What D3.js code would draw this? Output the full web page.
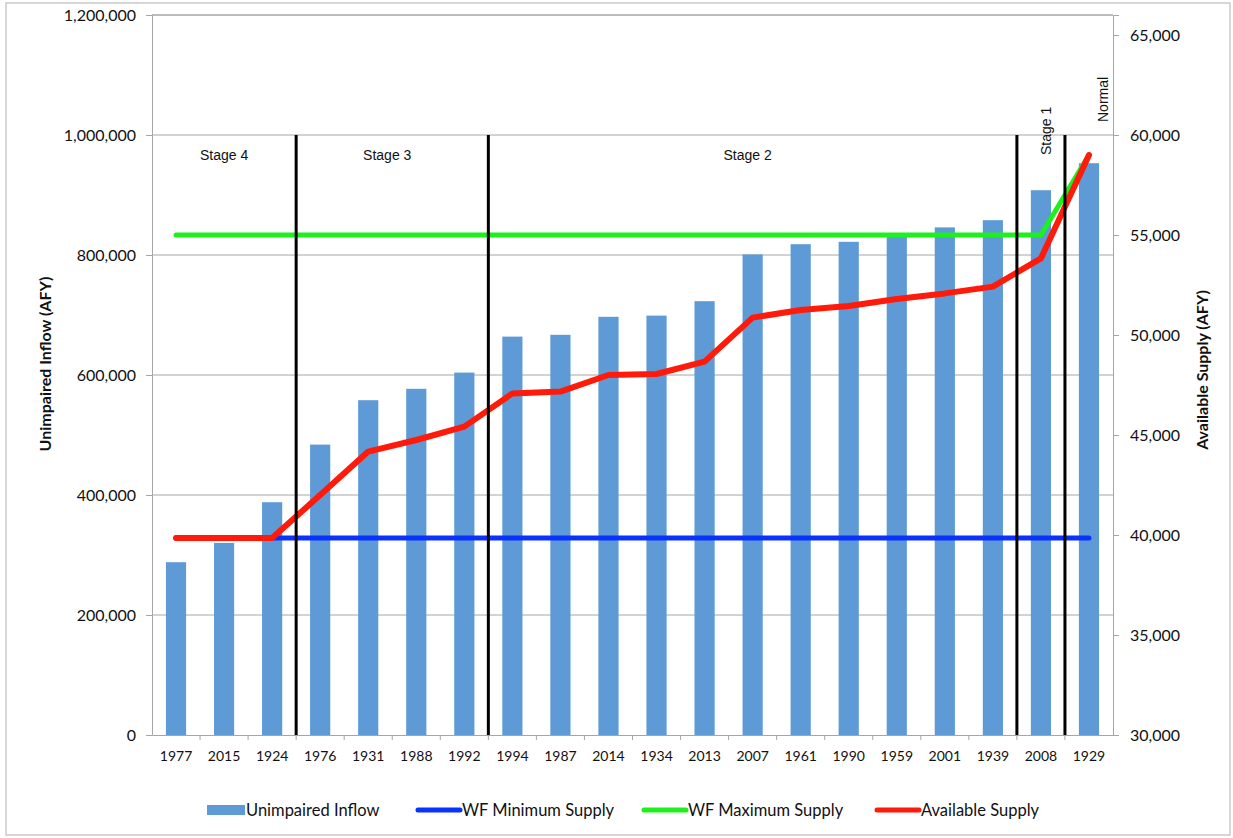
<!DOCTYPE html>
<html>
<head>
<meta charset="utf-8">
<script src="https://cdn.jsdelivr.net/npm/d3@7"></script>
<style>
  html, body { margin: 0; padding: 0; background: #fff; }
  svg { display: block; }
</style>
</head>
<body>
<svg id="chart" width="1233" height="838"></svg>
<script>
// ---------- DATA ----------
const years = ["1977","2015","1924","1976","1931","1988","1992","1994","1987","2014",
               "1934","2013","2007","1961","1990","1959","2001","1939","2008","1929"];
const unimpairedInflow = [288000, 320000, 388000, 484000, 558000, 577000, 604000, 664000, 667000, 697000,
                          699000, 723000, 801000, 818000, 822000, 831000, 846000, 858000, 908000, 953000];
const wfMinimumSupply = [39850, 39850, 39850, 39850, 39850, 39850, 39850, 39850, 39850, 39850,
                         39850, 39850, 39850, 39850, 39850, 39850, 39850, 39850, 39850, 39850];
const wfMaximumSupply = [55000, 55000, 55000, 55000, 55000, 55000, 55000, 55000, 55000, 55000,
                         55000, 55000, 55000, 55000, 55000, 55000, 55000, 55000, 55000, 59000];
const availableSupply = [39850, 39850, 39850, 42000, 44170, 44750, 45420, 47080, 47170, 48000,
                         48050, 48670, 50870, 51250, 51450, 51800, 52080, 52420, 53830, 59000];
const leftTicks = [0, 200000, 400000, 600000, 800000, 1000000, 1200000];
const rightTicks = [30000, 35000, 40000, 45000, 50000, 55000, 60000, 65000];
const stageNames = ["Stage 4", "Stage 3", "Stage 2", "Stage 1", "Normal"];
const stageStarts = ["1977", "1976", "1994", "2008", "1929"];
const stageBoundaries = ["1976", "1994", "2008", "1929"];
const legendLabels = ["Unimpaired Inflow", "WF Minimum Supply", "WF Maximum Supply", "Available Supply"];

// ---------- LAYOUT ----------
const svg = d3.select("#chart");
const L = 152, R = 1113, T = 15, B = 735;
const colBar = "#5e9bd6", colMin = "#0a32ff", colMax = "#1ef01e", colAvail = "#ff1a0a";
const tickFont = "Lato, 'Open Sans', sans-serif";

// outer frame
svg.append("rect").attr("x", 6).attr("y", 3).attr("width", 1224).attr("height", 832)
  .attr("fill", "#fff").attr("stroke", "#c9c9c9").attr("stroke-width", 1.5);

const x = d3.scaleBand().domain(years).range([L, R]).paddingInner(0.58).paddingOuter(0.29);
const xs = d3.scaleBand().domain(years).range([L, R]).padding(0);
const yL = d3.scaleLinear().domain([0, 1200000]).range([B, T]);
const yR = d3.scaleLinear().domain([30000, 66000]).range([B, T]);
const cx = d => x(d) + x.bandwidth() / 2;

// gridlines
svg.append("g").selectAll("line").data(leftTicks.slice(1)).join("line")
  .attr("x1", L).attr("x2", R).attr("y1", d => yL(d)).attr("y2", d => yL(d))
  .attr("stroke", "#a6a6a6").attr("stroke-width", 1);

// left axis
const gL = svg.append("g").attr("transform", `translate(${L},0)`)
  .call(d3.axisLeft(yL).tickValues(leftTicks).tickFormat(d3.format(",")).tickSize(6).tickPadding(10));
gL.select(".domain").attr("stroke", "#a6a6a6");
gL.selectAll(".tick line").attr("stroke", "#a6a6a6");
gL.selectAll("text").attr("font-family", tickFont).attr("font-size", 16).attr("fill", "#111");

// right axis
const gR = svg.append("g").attr("transform", `translate(${R},0)`)
  .call(d3.axisRight(yR).tickValues(rightTicks).tickFormat(d3.format(",")).tickSize(6).tickPadding(11));
gR.select(".domain").attr("stroke", "#a6a6a6");
gR.selectAll(".tick line").attr("stroke", "#a6a6a6");
gR.selectAll("text").attr("font-family", tickFont).attr("font-size", 16).attr("fill", "#111");

// bottom axis (ticks between categories)
const gB = svg.append("g").attr("transform", `translate(0,${B})`)
  .call(d3.axisBottom(x).tickSize(0).tickPadding(16));
gB.select(".domain").attr("stroke", "#a6a6a6");
gB.selectAll("text").attr("font-family", tickFont).attr("font-size", 14).attr("fill", "#111");
svg.append("g").selectAll("line").data(years.slice(1)).join("line")
  .attr("x1", d => xs(d)).attr("x2", d => xs(d)).attr("y1", B).attr("y2", B + 5)
  .attr("stroke", "#a6a6a6");

// plot top border
svg.append("line").attr("x1", L).attr("x2", R).attr("y1", T).attr("y2", T)
  .attr("stroke", "#a6a6a6");

// bars
svg.append("g").selectAll("rect").data(years).join("rect")
  .attr("x", d => x(d)).attr("width", x.bandwidth())
  .attr("y", (d, i) => yL(unimpairedInflow[i]))
  .attr("height", (d, i) => B - yL(unimpairedInflow[i]))
  .attr("fill", colBar);

// lines
const line = d3.line().x(d => cx(d[0])).y(d => yR(d[1]));
function drawLine(vals, color, w) {
  svg.append("path").datum(years.map((y, i) => [y, vals[i]]))
    .attr("d", line).attr("fill", "none").attr("stroke", color)
    .attr("stroke-width", w).attr("stroke-linecap", "round").attr("stroke-linejoin", "round");
}
drawLine(wfMinimumSupply, colMin, 5);
drawLine(wfMaximumSupply, colMax, 5);
drawLine(availableSupply, colAvail, 6);

// stage boundary lines
svg.append("g").selectAll("line").data(stageBoundaries).join("line")
  .attr("x1", d => xs(d)).attr("x2", d => xs(d))
  .attr("y1", yL(1000000)).attr("y2", B)
  .attr("stroke", "#000").attr("stroke-width", 3);

// stage labels
const stageEnd = i => i < stageStarts.length - 1 ? xs(stageStarts[i + 1]) : R;
const labelFont = "'Liberation Sans', Arial, sans-serif";
stageNames.forEach((name, i) => {
  const x0 = xs(stageStarts[i]), x1 = stageEnd(i);
  if (i < 3) {
    svg.append("text").attr("x", (x0 + x1) / 2 - (i === 0 ? 0 : 5)).attr("y", yL(1000000) + 25)
      .attr("text-anchor", "middle").attr("font-family", labelFont).attr("font-size", 14)
      .attr("fill", "#111").text(name);
  } else if (i === 3) {
    svg.append("text").attr("transform", `translate(${(x0 + x1) / 2 + 5},${yL(1000000) + 20}) rotate(-90)`)
      .attr("dy", "0.35em").attr("font-family", labelFont).attr("font-size", 14)
      .attr("fill", "#111").text(name);
  } else {
    svg.append("text").attr("transform", `translate(${x1 - 10},${yL(1000000) - 13}) rotate(-90)`)
      .attr("dy", "0.35em").attr("font-family", labelFont).attr("font-size", 14)
      .attr("fill", "#111").text(name);
  }
});

// axis titles
svg.append("text").attr("transform", `translate(45,364) rotate(-90)`)
  .attr("dy", "0.35em").attr("text-anchor", "middle").attr("font-family", tickFont)
  .attr("font-weight", "bold").attr("font-size", 16).attr("fill", "#111").text("Unimpaired Inflow (AFY)");
svg.append("text").attr("transform", `translate(1202,370) rotate(-90)`)
  .attr("dy", "0.35em").attr("text-anchor", "middle").attr("font-family", tickFont)
  .attr("font-weight", "bold").attr("font-size", 16).attr("fill", "#111").text("Available Supply (AFY)");

// legend
const legendX = [207, 418, 644, 877];
const legendColors = [colBar, colMin, colMax, colAvail];
const lg = svg.append("g");
legendLabels.forEach((lab, i) => {
  if (i === 0) {
    lg.append("rect").attr("x", legendX[i]).attr("y", 805).attr("width", 38).attr("height", 10).attr("fill", legendColors[i]);
  } else {
    lg.append("line").attr("x1", legendX[i]).attr("x2", legendX[i] + 42).attr("y1", 810).attr("y2", 810)
      .attr("stroke", legendColors[i]).attr("stroke-width", 5).attr("stroke-linecap", "round");
  }
  lg.append("text").attr("x", legendX[i] + (i === 0 ? 39 : 44)).attr("y", 810).attr("dy", "0.35em")
    .attr("font-family", tickFont).attr("font-size", 16.5).attr("fill", "#111").text(lab);
});
</script>
</body>
</html>
